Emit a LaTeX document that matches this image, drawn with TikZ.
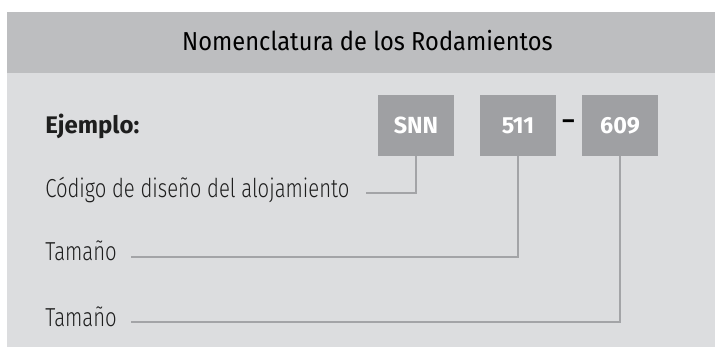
\documentclass[tikz,border=0pt]{standalone}
\usepackage{fontspec}
\setmainfont{Fira Sans}
\newfontfamily\titlefont{Fira Sans}[FakeStretch=0.91]
\newfontfamily\lightfont{Fira Sans Light}[FakeStretch=0.78]
\usepackage{tikz}
\usetikzlibrary{positioning}

\definecolor{headgray}{HTML}{BDBEC0}
\definecolor{bodygray}{HTML}{DCDDDF}
\definecolor{boxgray}{HTML}{9FA0A3}
\definecolor{linegray}{HTML}{A3A4A7}
\definecolor{textdark}{HTML}{1E1E1E}

\begin{document}
\begin{tikzpicture}[x=0.75pt,y=0.75pt,yscale=-1,xscale=1,
  codebox/.style={fill=boxgray, minimum width=57pt, minimum height=45.75pt, inner sep=0pt, text=white, font=\fontsize{17.5}{20}\selectfont\bfseries},
  sidelabel/.style={anchor=base west, inner sep=0pt, text=textdark, font=\lightfont\fontsize{19.5}{22}\selectfont},
  lead/.style={draw=linegray, line width=1.5pt}]
\useasboundingbox (0,0) rectangle (715,347);

%Shape: Rectangle [header band]
\fill [headgray] (7,12) rectangle (715,73) ;
%Shape: Rectangle [body]
\fill [bodygray] (7,73) rectangle (715,347) ;

% Text Node
\node [anchor=base, inner sep=0pt, text=black, font=\titlefont\fontsize{19.5}{22}\selectfont] (title) at (367.5,50.5) {Nomenclatura de los Rodamientos};
% Text Node
\node [sidelabel, font=\fontsize{18}{21}\selectfont\bfseries] (ejemplo) at (45,133) {Ejemplo:};

%Shape: Rectangle [code boxes]
\node [codebox] (snn) at (416,125.5) {SNN};
\node [codebox] (size) at (518,125.5) {511};
\node [codebox] (bore) at (620,125.5) {609};
% Text Node
\node [inner sep=0pt, text=black, font=\fontsize{17.5}{20}\selectfont\bfseries] (dash) at (568.5,124) {--};

% Text Node
\node [sidelabel] (code) at (45,197) {Código de diseño del alojamiento};
% Text Node
\node [sidelabel] (tam1) at (45,260.5) {Tamaño};
% Text Node
\node [sidelabel] (tam2) at (45,326) {Tamaño};

%Straight Lines
\draw [lead] (snn.south) |- ([xshift=12pt]code.mid east) ;
\draw [lead] (size.south) |- ([xshift=10.5pt]tam1.mid east) ;
\draw [lead] (bore.south) |- ([xshift=10.5pt]tam2.mid east) ;

\end{tikzpicture}
\end{document}
